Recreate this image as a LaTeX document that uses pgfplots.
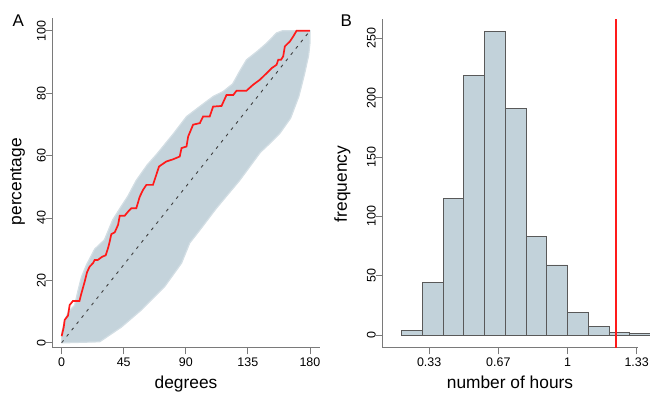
\documentclass[border=0pt]{standalone}
\usepackage{fontspec}
\setmainfont{Liberation Sans}
\usepackage{pgfplots}
\pgfplotsset{compat=1.18}
\definecolor{band}{HTML}{C4D3DB}
\definecolor{bandedge}{HTML}{D3DEE4}
\definecolor{histfill}{HTML}{C2D2DA}
\definecolor{histedge}{HTML}{595959}
\definecolor{axcol}{HTML}{7A7A7A}
\definecolor{rred}{HTML}{FF1A1A}
\pgfplotsset{common/.style={
  scale only axis,
  axis x line*=bottom, axis y line*=left,
  axis line style={axcol,-,line width=0.8bp},
  tick style={axcol,line width=0.8bp},
  tick align=outside, major tick length=6.7bp,
  /pgf/number format/assume math mode=true,
  ticklabel style={font=\fontsize{12.5}{14}\selectfont, text=black},
  xticklabel style={anchor=north, inner sep=0pt, yshift=-3.5bp},
  yticklabel style={rotate=90, anchor=south, inner sep=0pt},
}}
\begin{document}
\begin{tikzpicture}[x=1bp,y=1bp]
\useasboundingbox (0,0) rectangle (650,395);
% Panel A
\begin{axis}[common,
  at={(52.7bp,47.3bp)}, anchor=south west,
  width=266.9bp, height=329.4bp,
  xmin=-6.5, xmax=187, ymin=-1.6, ymax=104,
  xtick={0,45,90,135,180}, ytick={0,20,40,60,80,100},
]
\addplot[fill=band, draw=bandedge, line width=1.2bp] coordinates {
(0,0) (0,3) (2,7) (5,10) (9.4,12) (12,17) (14.3,21) (18,25) (23.9,30) (31,33)
(37,39.4) (43,43.6) (48,47) (54,52) (62,57) (69,60.5) (81,67) (90.5,72.5)
(100,75.7) (110,79) (117,80.5) (124,83) (129,87) (134,90.7) (142,93.5)
(148.5,96) (155.8,99.3) (160,100) (180,100)
(180,96) (179,92) (176,86) (172,79) (166,72) (158,67) (150,63.5) (144,61) (129,52)
(112,43) (100,36) (92.9,32) (86.9,25.5) (74.7,18) (57.8,10.5) (43.3,5)
(27.6,0.3) (4.6,0) (0,0)} -- cycle;
\addplot[black!75, line width=0.9bp, dash pattern=on 3bp off 5bp] coordinates {(0,0) (180,100)};
\addplot[rred, line width=1.7bp] coordinates {
(0,2.1) (1.5,5) (2.2,7.3) (4.6,8.7) (5.8,12.1) (8.2,13.4) (12.9,13.4)
(14.3,15.8) (16.7,19.6) (18.4,22.6) (20.3,24.4) (22.7,25.5) (23.9,26.5)
(26.1,26.5) (29.5,27.6) (31.9,28) (33.6,30.3) (34.8,32.4) (36,34.8)
(38.5,35.4) (40.9,37.8) (42.1,40.7) (45.7,40.7) (48.1,42) (50.5,43.1)
(54.1,43.1) (56.6,46.8) (59,49) (61.4,50.6) (66.2,50.6) (70.6,56.5)
(75.9,58.1) (80.8,58.8) (85.6,59.7) (86.9,62.4) (90.5,62.9) (91.7,66.1)
(95.3,69.9) (100.2,70.4) (102.5,72.5) (107.3,72.5) (109.8,75.7)
(115.9,75.9) (119.5,79.4) (124.4,79.4) (126.8,80.8) (134,80.8)
(138.8,82.7) (143.7,84.3) (148.6,86.4) (152.2,88) (155.8,89.1) (157,90.7)
(159,90.7) (160.6,91.8) (161.8,95) (165.5,96.6) (167.9,98.2) (170.3,100)
(180,100)};
\end{axis}
% Panel B
\begin{axis}[common,
  at={(382.7bp,47.3bp)}, anchor=south west,
  width=255.3bp, height=328.4bp,
  xmin=0.1094, xmax=1.3398, ymin=-10.7, ymax=266,
  xtick={0.333333,0.666667,1,1.333333}, xticklabels={0.33,0.67,1,1.33},
  ytick={0,50,100,150,200,250},
  clip=false,
]
\addplot[ybar, bar width=0.1, bar shift=0pt, fill=histfill, draw=histedge, line width=0.9bp] coordinates {
(0.25,4) (0.35,44) (0.45,115) (0.55,219) (0.65,256) (0.75,191) (0.85,83)
(0.95,59) (1.05,19) (1.15,7) (1.25,2) (1.35,1)};
\end{axis}
% overlay axis for the red reference line
\begin{axis}[
  at={(382.7bp,47.3bp)}, anchor=south west, scale only axis,
  width=255.3bp, height=328.4bp,
  xmin=0.1094, xmax=1.3398, ymin=-10.7, ymax=266,
  hide axis, clip=false,
]
\addplot[color=rred, line width=2bp, mark=none] coordinates {(1.232,-10.7) (1.232,266)};
\end{axis}
\node[font=\fontsize{17}{20}\selectfont] at (18.3,374) {A};
\node[font=\fontsize{17}{20}\selectfont] at (346.3,374) {B};
\node[font=\fontsize{17.4}{20}\selectfont, rotate=90] at (17.5,213.3) {percentage};
\node[font=\fontsize{17.4}{20}\selectfont, rotate=90] at (342.5,211) {frequency};
\node[font=\fontsize{17.4}{20}\selectfont, anchor=base] at (186,6.5) {degrees};
\node[font=\fontsize{17.4}{20}\selectfont, anchor=base] at (510,6.5) {number of hours};
\end{tikzpicture}
\end{document}
